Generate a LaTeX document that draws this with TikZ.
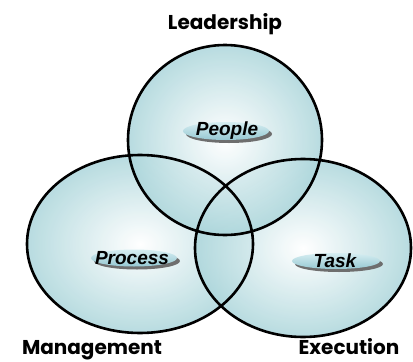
\documentclass[tikz,border=0pt]{standalone}
\usepackage{fontspec}
\setmainfont{Liberation Sans}
\newfontfamily\titlefont{Poppins}
\usetikzlibrary{shadings}
\definecolor{ringedge}{RGB}{172,214,219}
\definecolor{badgetop}{RGB}{214,238,242}
\definecolor{badgebot}{RGB}{150,200,210}
\definecolor{shadowgray}{RGB}{110,110,110}
\tikzset{
  ringfill/.style={inner color=white, outer color=ringedge, fill opacity=0.85},
  ringline/.style={draw=black, line width=2.6pt},
  title/.style={font=\titlefont\bfseries\fontsize{20}{22}\selectfont, text=black, inner sep=0pt, anchor=base},
  badgetext/.style={font=\bfseries\itshape\fontsize{19}{21}\selectfont, text=black, inner sep=0pt},
}
\begin{document}
\begin{tikzpicture}[x=1pt,y=-1pt]
\useasboundingbox (0,0) rectangle (413,362);
\fill[white] (0,0) rectangle (413,362);
% fills
\shade[ringfill] (140,244) ellipse [x radius=113, y radius=89];
\shade[ringfill] (303,248) ellipse [x radius=108, y radius=89];
\shade[ringfill] (225,140) ellipse [x radius=97, y radius=95];
% outlines
\draw[ringline] (140,244) ellipse [x radius=113, y radius=89];
\draw[ringline] (303,248) ellipse [x radius=108, y radius=89];
\draw[ringline] (225,140) ellipse [x radius=97, y radius=95];
% badges
\foreach \cx/\cy/\rx/\ry in {226/131/43/9, 134/258/43/8.5, 336/261/44/8}{
  \fill[shadowgray] (\cx+3,\cy+3) ellipse [x radius=\rx, y radius=\ry];
  \shade[top color=badgetop, bottom color=badgebot] (\cx,\cy) ellipse [x radius=\rx, y radius=\ry];
}
\node[badgetext] (people) at (227,131) {People};
\node[badgetext] (process) at (132,258) {Process};
\node[badgetext] (task) at (335,261) {Task};
\node[title] (lead) at (225,29) {Leadership};
\node[title] (mgmt) at (92,354) {Management};
\node[title] (exec) at (349,354) {Execution};
\end{tikzpicture}
\end{document}
